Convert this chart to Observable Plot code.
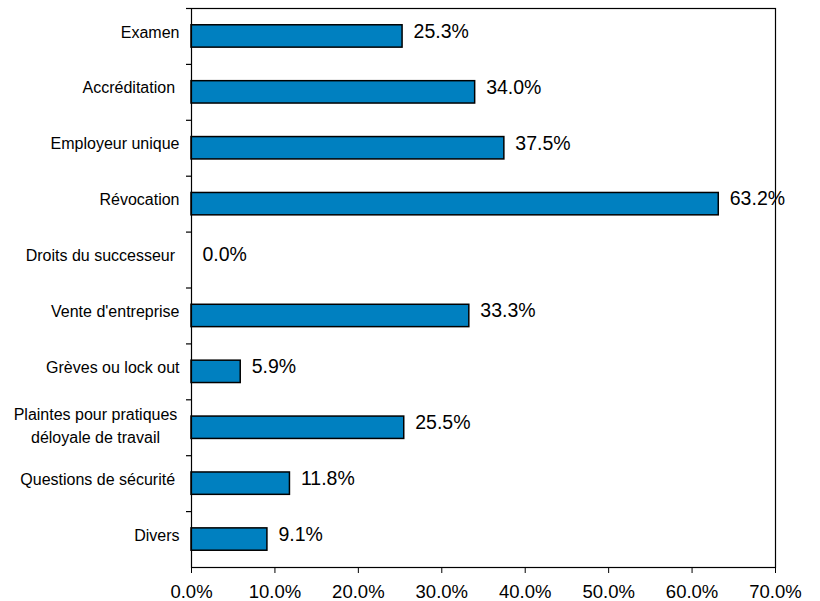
<!DOCTYPE html>
<html>
<head>
<meta charset="utf-8">
<script src="https://cdn.jsdelivr.net/npm/d3@7"></script>
<script src="https://cdn.jsdelivr.net/npm/@observablehq/plot@0.6"></script>
<style>
  html, body { margin: 0; padding: 0; background: #fff; }
  #chart { width: 820px; height: 601px; }
</style>
</head>
<body>
<div id="chart"></div>
<script>
const categories = [
  "Examen",
  "Accréditation",
  "Employeur unique",
  "Révocation",
  "Droits du successeur",
  "Vente d'entreprise",
  "Grèves ou lock out",
  "Plaintes pour pratiques\ndéloyale de travail",
  "Questions de sécurité",
  "Divers"
];
const values = [25.3, 34.0, 37.5, 63.2, 0.0, 33.3, 5.9, 25.5, 11.8, 9.1];
const xTicks = [0, 10, 20, 30, 40, 50, 60, 70];
const multiLine = "Plaintes pour pratiques\ndéloyale de travail";
const paddedLabels = ["Accréditation", "Droits du successeur", "Questions de sécurité"];

const data = categories.map((c, i) => ({ category: c, value: values[i] }));
const fmt = v => v.toFixed(1) + "%";
const font = "Liberation Sans, Arial, Helvetica, sans-serif";

const chart = Plot.plot({
  width: 820,
  height: 601,
  marginLeft: 191,
  marginRight: 45,
  marginTop: 8,
  marginBottom: 34,
  style: { fontFamily: font, background: "#fff", color: "#000" },
  x: { domain: [0, 70], ticks: xTicks },
  y: { domain: categories, paddingInner: 0.6, paddingOuter: 0.3, round: false },
  marks: [
    Plot.barX(data, { x: "value", y: "category", fill: "#0080C0", stroke: "#000", strokeWidth: 1.5 }),
    Plot.text(data, { x: "value", y: "category", text: d => fmt(d.value), textAnchor: "start", dx: 11, dy: -5, fontSize: 19.5, fill: "#000" }),
    Plot.frame({ stroke: "#000", strokeWidth: 1.2 }),
    Plot.axisX({ ticks: xTicks, tickFormat: d => d.toFixed(1) + "%", tickSize: 6, tickPadding: 11, fontSize: 18.5, stroke: "#000", label: null }),
    Plot.axisY({ tickSize: 5, text: null, dy: -27.95, stroke: "#000", strokeWidth: 1.2, label: null }),
    Plot.axisY(categories.filter(c => c !== multiLine), {
      tickSize: 0, tickPadding: 12, dy: -4, fontSize: 16, label: null,
      tickFormat: d => paddedLabels.includes(d) ? d + "\u00a0" : d
    }),
    Plot.text([multiLine], { y: d => d, frameAnchor: "left", textAnchor: "middle", dx: -96, dy: -4, fontSize: 16, lineHeight: 1.45, fill: "#000" })
  ]
});
document.getElementById("chart").appendChild(chart);
</script>
</body>
</html>
